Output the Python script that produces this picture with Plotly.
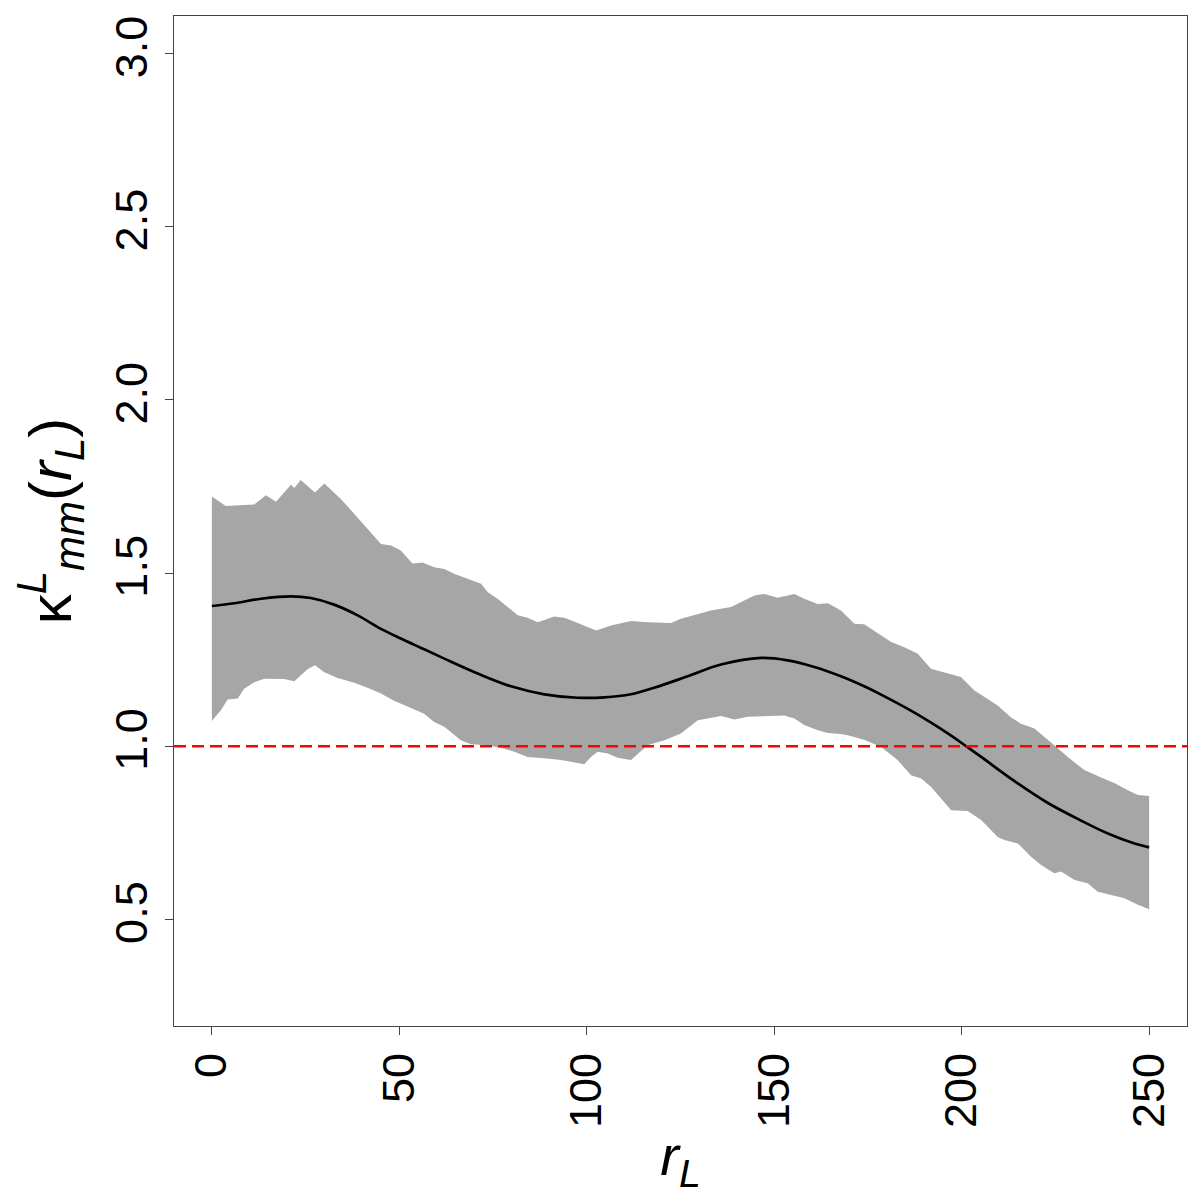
import plotly.graph_objects as go

# values
r_upper = [0, 3.7, 8.6, 11.3, 14.4, 17.1, 21.1, 22.0, 23.7, 27.5, 30.0, 34.4, 38.0, 41.5,
           45.1, 47.8, 50.4, 53.5, 56.2, 59.3, 62.0, 64.6, 69.1, 71.8, 73.6, 76.2, 78.9,
           81.6, 84.2, 86.9, 91.3, 94.0, 97.6, 102.5, 106.5, 111.8, 116.2, 122.5, 125.1,
           129.6, 133.1, 138.5, 141.1, 144.7, 147.4, 150.9, 155.4, 158.0, 161.6, 164.3,
           167.8, 171.4, 174.0, 181.2, 184.7, 188.3, 191.8, 196.3, 199.8, 203.4, 209.6,
           213.2, 215.8, 219.4, 222.1, 224.7, 228.3, 232.7, 237.2, 240.7, 244.3, 247.0, 250]
k_upper = [1.721, 1.694, 1.697, 1.698, 1.725, 1.706, 1.755, 1.746, 1.769, 1.733, 1.759, 1.714,
           1.671, 1.628, 1.584, 1.580, 1.565, 1.528, 1.531, 1.517, 1.512, 1.498, 1.479, 1.469,
           1.445, 1.426, 1.402, 1.378, 1.371, 1.358, 1.375, 1.371, 1.356, 1.334, 1.349, 1.362,
           1.358, 1.356, 1.368, 1.381, 1.392, 1.402, 1.416, 1.435, 1.440, 1.429, 1.440, 1.426,
           1.411, 1.413, 1.392, 1.354, 1.352, 1.301, 1.286, 1.267, 1.224, 1.210, 1.200, 1.161,
           1.118, 1.083, 1.065, 1.051, 1.027, 1.003, 0.969, 0.931, 0.910, 0.894, 0.873, 0.859,
           0.856]

r_lower = [0, 2.4, 4.2, 6.9, 8.6, 11.3, 14.0, 19.3, 22.0, 25.5, 27.5, 30.0, 33.5, 38.0, 41.5,
           45.1, 48.6, 52.2, 56.6, 59.3, 62.0, 66.4, 69.1, 73.6, 78.0, 80.7, 84.2, 88.7, 93.1,
           95.8, 99.3, 101.1, 102.9, 105.6, 108.2, 111.8, 116.2, 120.7, 125.1, 129.6, 135.8,
           139.4, 142.9, 148.3, 152.7, 155.4, 158.0, 161.6, 164.3, 167.8, 169.6, 174.0, 178.5,
           182.9, 186.5, 189.2, 191.8, 197.2, 201.6, 205.2, 209.6, 211.4, 215.0, 218.5, 221.2,
           224.7, 226.5, 230.1, 233.6, 236.3, 239.9, 243.4, 247.0, 250]
k_lower = [1.073, 1.104, 1.135, 1.138, 1.166, 1.185, 1.195, 1.194, 1.188, 1.222, 1.234, 1.214,
           1.197, 1.183, 1.169, 1.152, 1.131, 1.115, 1.094, 1.070, 1.056, 1.017, 1.006, 1.003,
           0.993, 0.984, 0.969, 0.965, 0.960, 0.955, 0.948, 0.969, 0.984, 0.979, 0.967, 0.960,
           1.003, 1.017, 1.037, 1.075, 1.087, 1.077, 1.085, 1.087, 1.089, 1.080, 1.061, 1.046,
           1.038, 1.035, 1.032, 1.019, 0.998, 0.960, 0.916, 0.907, 0.883, 0.815, 0.813, 0.787,
           0.738, 0.729, 0.719, 0.681, 0.657, 0.633, 0.638, 0.614, 0.604, 0.580, 0.570, 0.561,
           0.542, 0.529]

r_mean = [0, 6, 13.1, 21.1, 26.4, 32.6, 38.9, 45.1, 50.4, 55.8, 62.0, 70.9, 79.8, 88.7, 97.6,
          104.7, 111.8, 118.0, 126.9, 135.8, 146.5, 153.6, 160.7, 167.8, 174.0, 178.5, 187.4,
          196.3, 201.2, 205.2, 214.1, 223.0, 231.9, 239.0, 246.1, 250]
k_mean = [1.405, 1.413, 1.426, 1.433, 1.428, 1.409, 1.378, 1.339, 1.311, 1.284, 1.253, 1.210,
          1.173, 1.150, 1.140, 1.141, 1.150, 1.169, 1.202, 1.236, 1.255, 1.248, 1.229, 1.202,
          1.173, 1.149, 1.097, 1.037, 1.000, 0.969, 0.899, 0.836, 0.785, 0.748, 0.719, 0.708]

ref_level = 1.0
x_ticks = [0, 50, 100, 150, 200, 250]
y_ticks = [0.5, 1.0, 1.5, 2.0, 2.5, 3.0]

FONT = "Liberation Sans, Arial, sans-serif"

fig = go.Figure()

# envelope polygon
fig.add_trace(go.Scatter(
    x=r_upper + r_lower[::-1],
    y=k_upper + k_lower[::-1],
    fill="toself", fillcolor="#A6A6A6",
    line=dict(width=0, color="#A6A6A6"),
    mode="lines", hoverinfo="skip", showlegend=False,
))

fig.add_trace(go.Scatter(
    x=r_mean, y=k_mean, mode="lines",
    line=dict(color="black", width=2.7, shape="spline", smoothing=1.0),
    showlegend=False,
))

fig.add_hline(y=ref_level, line=dict(color="#FF0000", width=2.5, dash="12px,6px"))

axis_common = dict(
    showline=True, mirror=True, linecolor="#444444", linewidth=1,
    ticks="outside", ticklen=8, tickwidth=1, tickcolor="#444444",
    showgrid=False, zeroline=False,
    tickfont=dict(family=FONT, size=45, color="black"),
    tickangle=-90,
)

fig.update_xaxes(
    range=[-10.1, 260.1], tickvals=x_ticks,
    title=dict(text="<i>r</i><sub><i>L</i></sub>", standoff=8,
               font=dict(family=FONT, size=56, color="black")),
    **axis_common,
)
fig.update_yaxes(
    range=[0.192, 3.109], tickvals=y_ticks, tickformat=".1f",
    title=dict(text="κ<sup><i>L</i></sup><sub><i>mm</i></sub>(<i>r</i><sub><i>L</i></sub>)",
               standoff=36, font=dict(family=FONT, size=60, color="black")),
    **axis_common,
)

fig.update_layout(
    width=1200, height=1200,
    margin=dict(l=166, r=21, t=8, b=182),
    plot_bgcolor="white", paper_bgcolor="white",
)

fig.write_html("out.html")
